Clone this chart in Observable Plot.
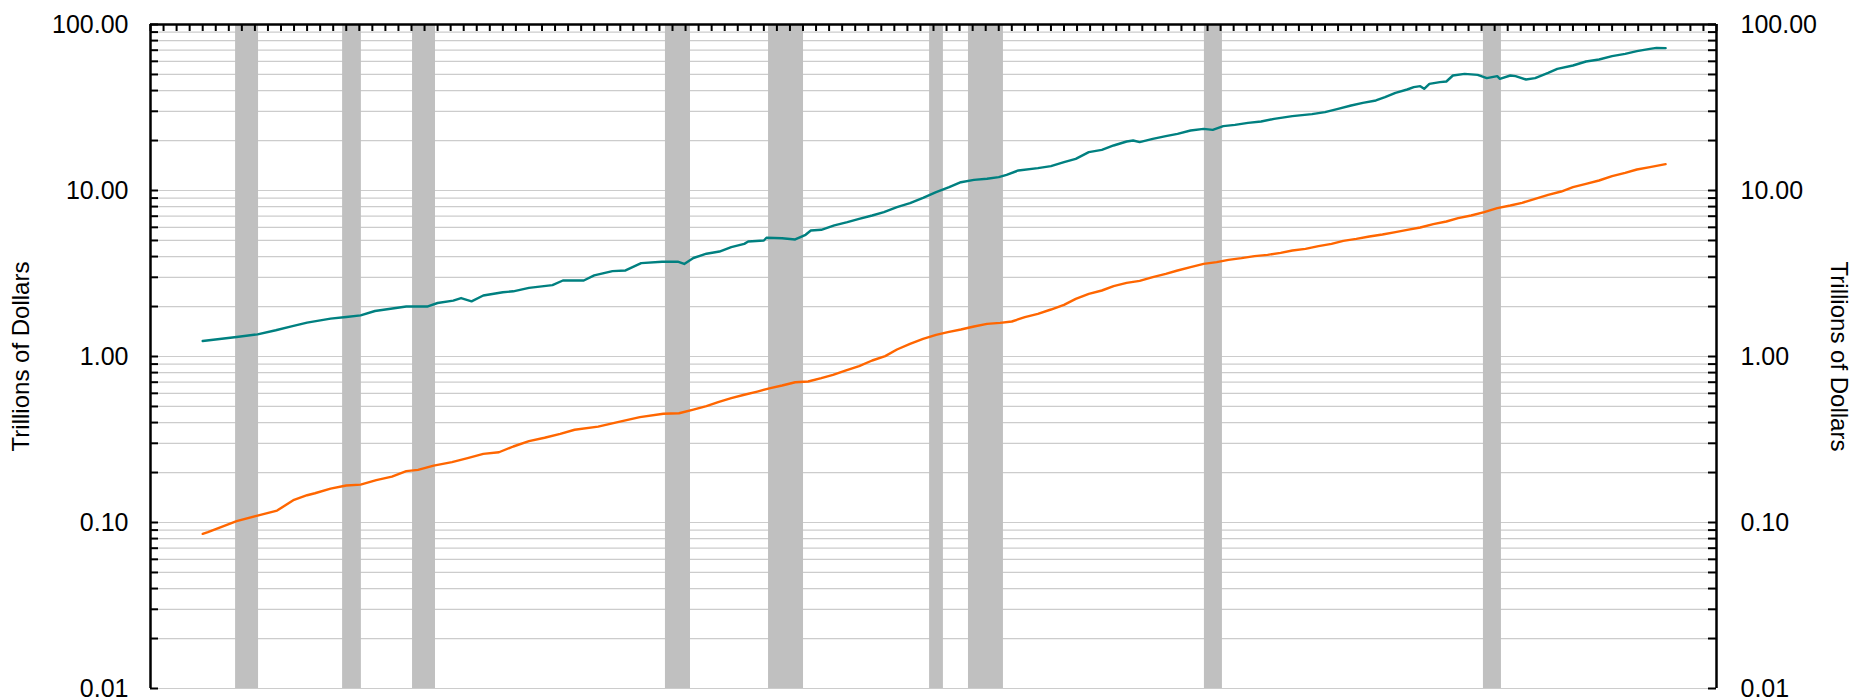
<!DOCTYPE html>
<html>
<head>
<meta charset="utf-8">
<script src="https://cdn.jsdelivr.net/npm/d3@7"></script>
<script src="https://cdn.jsdelivr.net/npm/@observablehq/plot@0.6"></script>
<style>
html, body { margin: 0; padding: 0; background: #fff; }
#chart svg { display: block; }
</style>
</head>
<body>
<div id="chart"></div>
<script>
// ---- data ----
const tealYears = [1952.0, 1953.3, 1954.1, 1954.8, 1955.4, 1956.0, 1956.9, 1957.5, 1958.05, 1958.6, 1959.2, 1959.8, 1960.6, 1961.0, 1961.6, 1961.9, 1962.3, 1962.75, 1963.5, 1963.9, 1964.5, 1965.4, 1965.8, 1966.6, 1967.0, 1967.7, 1968.2, 1968.8, 1969.6, 1970.2, 1970.45, 1970.8, 1971.3, 1971.8, 1972.25, 1972.75, 1972.9, 1973.5, 1973.6, 1974.2, 1974.7, 1975.1, 1975.3, 1975.7, 1976.2, 1976.7, 1977.15, 1977.65, 1978.1, 1978.6, 1979.1, 1979.6, 1980.1, 1980.6, 1981.05, 1981.55, 1982.05, 1982.5, 1982.8, 1983.25, 1984.0, 1984.5, 1985.0, 1985.45, 1985.95, 1986.45, 1986.9, 1987.4, 1987.65, 1987.9, 1988.4, 1988.9, 1989.35, 1989.85, 1990.35, 1990.7, 1991.1, 1991.55, 1992.05, 1992.55, 1993.05, 1993.75, 1994.5, 1995.0, 1995.5, 1996.0, 1996.45, 1996.95, 1997.3, 1997.7, 1998.15, 1998.4, 1998.65, 1998.8, 1999.0, 1999.4, 1999.65, 1999.9, 2000.35, 2000.85, 2001.2, 2001.6, 2001.7, 2002.1, 2002.3, 2002.7, 2003.05, 2003.55, 2003.9, 2004.5, 2005.0, 2005.5, 2006.0, 2006.5, 2006.95, 2007.45, 2007.7, 2008.05];
const tealValues = [1.24, 1.31, 1.36, 1.44, 1.52, 1.60, 1.69, 1.73, 1.77, 1.88, 1.94, 2.00, 2.00, 2.10, 2.17, 2.25, 2.15, 2.33, 2.44, 2.47, 2.59, 2.69, 2.87, 2.87, 3.08, 3.27, 3.30, 3.65, 3.72, 3.73, 3.61, 3.92, 4.16, 4.29, 4.56, 4.77, 4.93, 5.00, 5.19, 5.16, 5.07, 5.41, 5.74, 5.80, 6.16, 6.45, 6.75, 7.07, 7.41, 7.94, 8.39, 9.03, 9.77, 10.47, 11.22, 11.59, 11.76, 12.03, 12.43, 13.20, 13.63, 14.02, 14.82, 15.52, 17.02, 17.58, 18.67, 19.73, 20.01, 19.55, 20.47, 21.25, 21.95, 22.98, 23.52, 23.20, 24.41, 24.86, 25.56, 26.04, 27.02, 28.04, 28.83, 29.65, 31.05, 32.51, 33.74, 34.85, 36.49, 38.76, 40.59, 41.93, 42.52, 40.97, 43.92, 44.95, 45.36, 49.29, 50.44, 49.75, 47.51, 48.85, 47.08, 49.29, 48.85, 46.64, 47.51, 51.14, 54.06, 56.62, 59.85, 61.54, 64.44, 66.57, 69.09, 71.35, 72.35, 72.02];

const orangeYears = [1952.0, 1952.2, 1952.7, 1953.3, 1954.1, 1954.85, 1955.5, 1956.0, 1956.3, 1956.9, 1957.5, 1958.05, 1958.65, 1959.25, 1959.8, 1960.25, 1960.85, 1961.55, 1962.15, 1962.75, 1963.35, 1963.9, 1964.5, 1965.1, 1965.7, 1966.25, 1967.15, 1967.9, 1968.75, 1969.65, 1970.25, 1970.8, 1971.3, 1971.75, 1972.25, 1972.75, 1973.25, 1973.75, 1974.2, 1974.7, 1975.2, 1975.7, 1976.15, 1976.65, 1977.15, 1977.65, 1978.15, 1978.6, 1979.1, 1979.6, 1980.1, 1980.55, 1981.05, 1981.55, 1982.05, 1982.55, 1983.0, 1983.5, 1984.0, 1984.5, 1985.0, 1985.45, 1985.95, 1986.45, 1986.9, 1987.4, 1987.9, 1988.4, 1988.9, 1989.35, 1989.85, 1990.35, 1990.85, 1991.3, 1991.8, 1992.3, 1992.8, 1993.3, 1993.75, 1994.25, 1994.75, 1995.25, 1995.7, 1996.2, 1996.7, 1997.2, 1997.7, 1998.15, 1998.65, 1999.15, 1999.65, 2000.1, 2000.6, 2001.1, 2001.6, 2002.1, 2002.55, 2003.05, 2003.55, 2004.05, 2004.5, 2005.0, 2005.5, 2006.0, 2006.5, 2006.95, 2007.45, 2008.05];
const orangeValues = [0.0855, 0.0875, 0.0938, 0.102, 0.110, 0.118, 0.137, 0.146, 0.150, 0.160, 0.167, 0.169, 0.180, 0.189, 0.204, 0.2075, 0.220, 0.231, 0.244, 0.259, 0.265, 0.287, 0.309, 0.324, 0.342, 0.362, 0.378, 0.402, 0.431, 0.452, 0.455, 0.479, 0.502, 0.531, 0.561, 0.588, 0.615, 0.645, 0.669, 0.700, 0.707, 0.740, 0.775, 0.824, 0.875, 0.946, 1.005, 1.102, 1.192, 1.277, 1.351, 1.402, 1.454, 1.516, 1.573, 1.595, 1.625, 1.726, 1.807, 1.919, 2.048, 2.226, 2.385, 2.498, 2.653, 2.779, 2.857, 3.006, 3.148, 3.297, 3.453, 3.616, 3.701, 3.822, 3.912, 4.022, 4.097, 4.212, 4.351, 4.452, 4.620, 4.772, 4.975, 5.114, 5.283, 5.431, 5.611, 5.796, 5.986, 6.269, 6.506, 6.814, 7.07, 7.405, 7.827, 8.121, 8.427, 8.908, 9.417, 9.862, 10.47, 10.97, 11.49, 12.20, 12.78, 13.38, 13.82, 14.41];

const recessionStarts = [1953.26, 1957.36, 1960.04, 1969.73, 1973.68, 1979.85, 1981.34, 1990.38, 2001.07];
const recessionEnds   = [1954.14, 1958.08, 1960.92, 1970.69, 1975.02, 1980.38, 1982.68, 1991.07, 2001.76];

const yTickValues = [0.01, 0.1, 1, 10, 100];
const yTickLabels = ["0.01", "0.10", "1.00", "10.00", "100.00"];
const gridMultipliers = [1, 2, 3, 4, 5, 6, 7, 8, 9];
const xDomain = [1950, 2010];
const yDomain = [0.01, 100];
const yTitle = "Trillions of Dollars";

// ---- derived tables ----
const teal = tealYears.map((t, i) => ({t, v: tealValues[i]}));
const orange = orangeYears.map((t, i) => ({t, v: orangeValues[i]}));
const recessions = recessionStarts.map((s, i) => ({s, e: recessionEnds[i]}));
const minorTicks = yTickValues.slice(0, -1)
  .flatMap(d => gridMultipliers.map(m => +(d * m).toPrecision(3)))
  .concat([yTickValues[yTickValues.length - 1]]);
const halfYears = d3.range(xDomain[0], xDomain[1] + 0.001, 0.5);

const W = 1862, H = 700, mL = 150, mR = 146, mT = 24, mB = 12;
const frameW = W - mL - mR;
const frameH = H - mT - mB;
const font = "'Liberation Sans', Arial, Helvetica, sans-serif";

const chart = Plot.plot({
  width: W,
  height: H,
  marginLeft: mL,
  marginRight: mR,
  marginTop: mT,
  marginBottom: mB,
  style: {fontFamily: font, background: "#fff", color: "#000"},
  x: {domain: xDomain, axis: null},
  y: {type: "log", domain: yDomain},
  marks: [
    Plot.ruleY(minorTicks, {y: d => d, stroke: "#cccccc", strokeWidth: 1.2}),
    Plot.rect(recessions, {x1: "s", x2: "e", fill: "#c0c0c0"}),
    Plot.line(teal, {x: "t", y: "v", stroke: "#008080", strokeWidth: 2.4}),
    Plot.line(orange, {x: "t", y: "v", stroke: "#ff6600", strokeWidth: 2.4}),
    // axis lines
    Plot.ruleX(xDomain, {x: d => d, stroke: "#000", strokeWidth: 2.5}),
    Plot.ruleY([yDomain[1]], {y: d => d, stroke: "#000", strokeWidth: 2.5}),
    // inward ticks
    Plot.tickX(halfYears, {x: d => d, stroke: "#000", strokeWidth: 2, insetBottom: frameH - 7}),
    Plot.tickY(minorTicks, {y: d => d, stroke: "#000", strokeWidth: 2, insetRight: frameW - 8}),
    Plot.tickY(minorTicks, {y: d => d, stroke: "#000", strokeWidth: 2, insetLeft: frameW - 8}),
    // tick labels
    Plot.axisY(yTickValues, {anchor: "left", tickSize: 0, tickPadding: 22, fontSize: 25, label: null,
      tickFormat: d => yTickLabels[yTickValues.indexOf(d)]}),
    Plot.axisY(yTickValues, {anchor: "right", tickSize: 0, tickPadding: 24, fontSize: 25, label: null,
      tickFormat: d => yTickLabels[yTickValues.indexOf(d)]}),
    // axis titles
    Plot.text([yTitle], {text: d => d, frameAnchor: "left", dx: -129, rotate: -90, textAnchor: "middle", fontSize: 24}),
    Plot.text([yTitle], {text: d => d, frameAnchor: "right", dx: 122, rotate: 90, textAnchor: "middle", fontSize: 24})
  ]
});

document.getElementById("chart").appendChild(chart);
</script>
</body>
</html>
